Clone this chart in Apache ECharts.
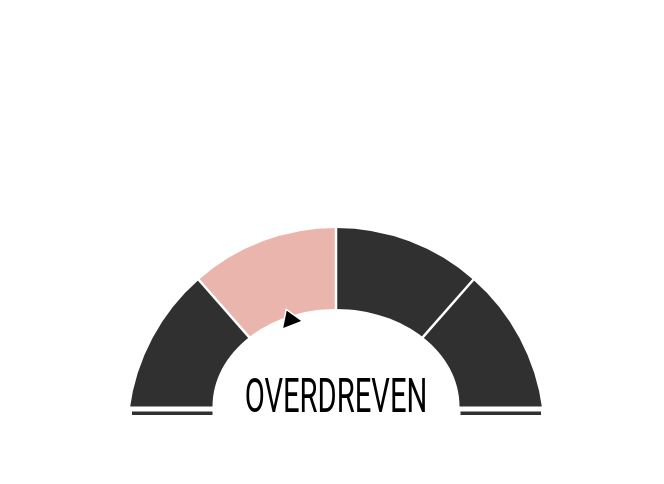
<!DOCTYPE html>
<html>
<head>
<meta charset="utf-8">
<script src="https://cdn.jsdelivr.net/npm/echarts@6/dist/echarts.min.js"></script>
<style>
html,body{margin:0;padding:0;background:#fff;}
#chart{width:664px;height:484px;}
</style>
</head>
<body>
<div id="chart"></div>
<script>
// ---- data ----
const segmentEnds = [0.25, 0.5, 0.75, 1];
const gaugeValue = [37];
const gaugeMin = 0;
const gaugeMax = 100;
const detailText = ['OVERDREVEN'];

// ---- chart ----
const DARK = '#303030';
const PINK = '#e9b5ad';
const segColors = [DARK, PINK, DARK, DARK];
const cx = 336, cy = 436, R = 208, W = 84;
const START = 172.6, END = 7.4;

const common = {
  type: 'gauge',
  center: [cx, cy],
  radius: R,
  startAngle: START,
  endAngle: END,
  min: gaugeMin,
  max: gaugeMax,
  splitNumber: segmentEnds.length,
  axisTick: {show: false},
  axisLabel: {show: false},
  anchor: {show: false},
  title: {show: false},
  detail: {show: false}
};

const chart = echarts.init(document.getElementById('chart'), null, {renderer: 'canvas'});
chart.setOption({
  animation: false,
  backgroundColor: '#fff',
  series: [
    Object.assign({}, common, {
      z: 2,
      axisLine: {
        lineStyle: {
          width: W,
          color: segmentEnds.map((e, i) => [e, segColors[i]])
        }
      },
      splitLine: {
        show: true,
        length: W + 2,
        distance: -W - 1,
        lineStyle: {color: '#fff', width: 2.5}
      },
      pointer: {show: false},
      data: gaugeValue.map(v => ({value: v}))
    }),
    Object.assign({}, common, {
      z: 6,
      axisLine: {show: false},
      splitLine: {show: false},
      pointer: {
        show: true,
        icon: 'triangle',
        width: 22,
        length: 17,
        offsetCenter: [0, -119],
        itemStyle: {color: '#000', borderColor: '#fff', borderWidth: 1.5}
      },
      data: gaugeValue.map(v => ({value: v}))
    })
  ],
  graphic: [
    // inner opening of the dial
    {type: 'ellipse', z: 4, shape: {cx: cx, cy: 406.5, rx: 123.5, ry: 97.5}, style: {fill: '#fff'}},
    // flat base
    {type: 'rect', z: 4, shape: {x: 100, y: 406.5, width: 470, height: 80}, style: {fill: '#fff'}},
    {type: 'rect', z: 5, shape: {x: 132, y: 411.5, width: 80.5, height: 3.5}, style: {fill: DARK}},
    {type: 'rect', z: 5, shape: {x: 460.5, y: 411.5, width: 80.5, height: 3.5}, style: {fill: DARK}},
    {type: 'text', z: 7, x: cx, y: 400, scaleX: 0.608,
     style: {text: detailText[0], fontFamily: 'Roboto', fontSize: 48, fontWeight: 400, fill: '#000', align: 'center', verticalAlign: 'middle'}}
  ]
});
</script>
</body>
</html>
